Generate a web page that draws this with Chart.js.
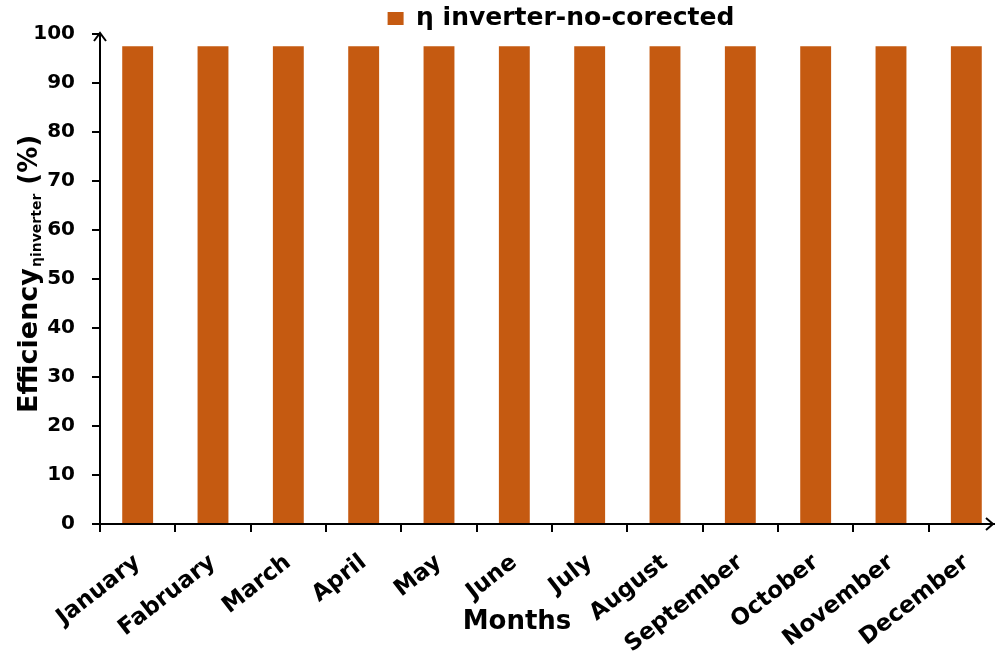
<!DOCTYPE html>
<html>
<head>
<meta charset="utf-8">
<script src="https://cdn.jsdelivr.net/npm/chart.js@4.4.1/dist/chart.umd.min.js"></script>
<style>
  html, body { margin: 0; padding: 0; background: #fff; overflow: hidden; }
  #wrap { width: 1004px; height: 652px; }
</style>
</head>
<body>
<div id="wrap"><canvas id="c" width="1004" height="652"></canvas></div>
<script>
// Monthly inverter efficiency (uncorrected)
const months = ['January', 'Fabruary', 'March', 'April', 'May', 'June',
                'July', 'August', 'September', 'October', 'November', 'December'];
const efficiency = [97.5, 97.5, 97.5, 97.5, 97.5, 97.5, 97.5, 97.5, 97.5, 97.5, 97.5, 97.5];
const yTicks = [0, 10, 20, 30, 40, 50, 60, 70, 80, 90, 100];
const seriesName = 'η inverter-no-corected';
const xTitle = 'Months';
const yTitleMain = 'Efficiency';
const yTitleSub = 'ηinverter';
const yTitleUnit = ' (%)';

const FONT = 'DejaVu Sans';
const BAR_COLOR = '#C55A11';
const LEGEND_HEIGHT = 34;
const LEGEND_SHIFT = 9;

// Fixed legend band height and a small horizontal offset of the legend
const legendPlacement = {
  id: 'legendPlacement',
  afterInit(chart) {
    const legend = chart.legend;
    if (!legend) return;
    const baseFit = legend.fit.bind(legend);
    legend.fit = function () {
      baseFit();
      this.height = LEGEND_HEIGHT;
    };
  },
  afterLayout(chart) {
    if (chart.legend) {
      chart.legend.left += LEGEND_SHIFT;
      chart.legend.right += LEGEND_SHIFT;
    }
  }
};

// Axis titles and arrow heads drawn on top of the chart
const decorations = {
  id: 'decorations',
  afterDraw(chart) {
    const ctx = chart.ctx;
    const area = chart.chartArea;
    const xs = chart.scales.x;
    const ys = chart.scales.y;
    ctx.save();
    ctx.fillStyle = '#000';
    ctx.strokeStyle = '#000';

    // arrow at the top of the value axis
    const ax = xs.left;
    const top = ys.getPixelForValue(100) - 1;
    ctx.lineWidth = 2;
    ctx.beginPath();
    ctx.moveTo(ax - 6, top + 8);
    ctx.lineTo(ax, top);
    ctx.lineTo(ax + 6, top + 8);
    ctx.stroke();

    // arrow at the right end of the category axis
    const ay = ys.getPixelForValue(0);
    const tip = 993;
    ctx.beginPath();
    ctx.moveTo(tip - 7, ay - 6);
    ctx.lineTo(tip, ay);
    ctx.lineTo(tip - 7, ay + 6);
    ctx.stroke();

    // category axis title
    ctx.font = 'bold 26px "' + FONT + '"';
    ctx.textAlign = 'center';
    ctx.textBaseline = 'alphabetic';
    ctx.fillText(xTitle, 517, 629);

    // value axis title with subscript, rotated
    ctx.translate(37, 413);
    ctx.rotate(-Math.PI / 2);
    ctx.textAlign = 'left';
    ctx.font = 'bold 27px "' + FONT + '"';
    ctx.fillText(yTitleMain, 0, 0);
    let w = ctx.measureText(yTitleMain).width;
    ctx.font = 'bold 14px "' + FONT + '"';
    ctx.fillText(yTitleSub, w + 1, 4);
    w += 1 + ctx.measureText(yTitleSub).width;
    ctx.font = 'bold 26px "' + FONT + '"';
    ctx.fillText(yTitleUnit, w, 0);
    ctx.restore();
  }
};

new Chart(document.getElementById('c'), {
  type: 'bar',
  data: {
    labels: months,
    datasets: [{
      label: seriesName,
      data: efficiency,
      backgroundColor: BAR_COLOR,
      borderWidth: 0,
      barPercentage: 0.41,
      categoryPercentage: 1.0
    }]
  },
  options: {
    responsive: false,
    animation: false,
    devicePixelRatio: 1,
    layout: { padding: { top: 0, left: 0, right: 0, bottom: 0 } },
    plugins: {
      tooltip: { enabled: false },
      legend: {
        display: true,
        position: 'top',
        fullSize: false,
        labels: {
          boxWidth: 16,
          boxHeight: 13,
          padding: 6,
          color: '#000',
          font: { family: FONT, size: 25, weight: 'bold', lineHeight: 1 }
        }
      }
    },
    scales: {
      x: {
        type: 'category',
        grid: {
          display: true,
          drawOnChartArea: false,
          drawTicks: true,
          tickLength: 8,
          color: '#000',
          lineWidth: 2,
          offset: true
        },
        border: { display: true, color: '#000', width: 2 },
        ticks: {
          color: '#000',
          autoSkip: false,
          maxRotation: 38,
          minRotation: 38,
          padding: 17,
          font: { family: FONT, size: 23, weight: 'bold' }
        },
        afterFit(scale) {
          scale.height = 128;
          scale.paddingLeft = 0;
          scale.paddingRight = 0;
        }
      },
      y: {
        min: 0,
        max: 100,
        afterBuildTicks(scale) {
          scale.ticks = yTicks.map(v => ({ value: v }));
        },
        grid: {
          display: true,
          drawOnChartArea: false,
          drawTicks: true,
          tickLength: 8,
          color: '#000',
          lineWidth: 2
        },
        border: { display: true, color: '#000', width: 2 },
        ticks: {
          color: '#000',
          padding: 17,
          font: { family: FONT, size: 20, weight: 'bold' }
        },
        afterFit(scale) {
          scale.width = 100;
          scale.paddingTop = 0;
          scale.paddingBottom = 0;
        }
      }
    }
  },
  plugins: [legendPlacement, decorations]
});
</script>
</body>
</html>
